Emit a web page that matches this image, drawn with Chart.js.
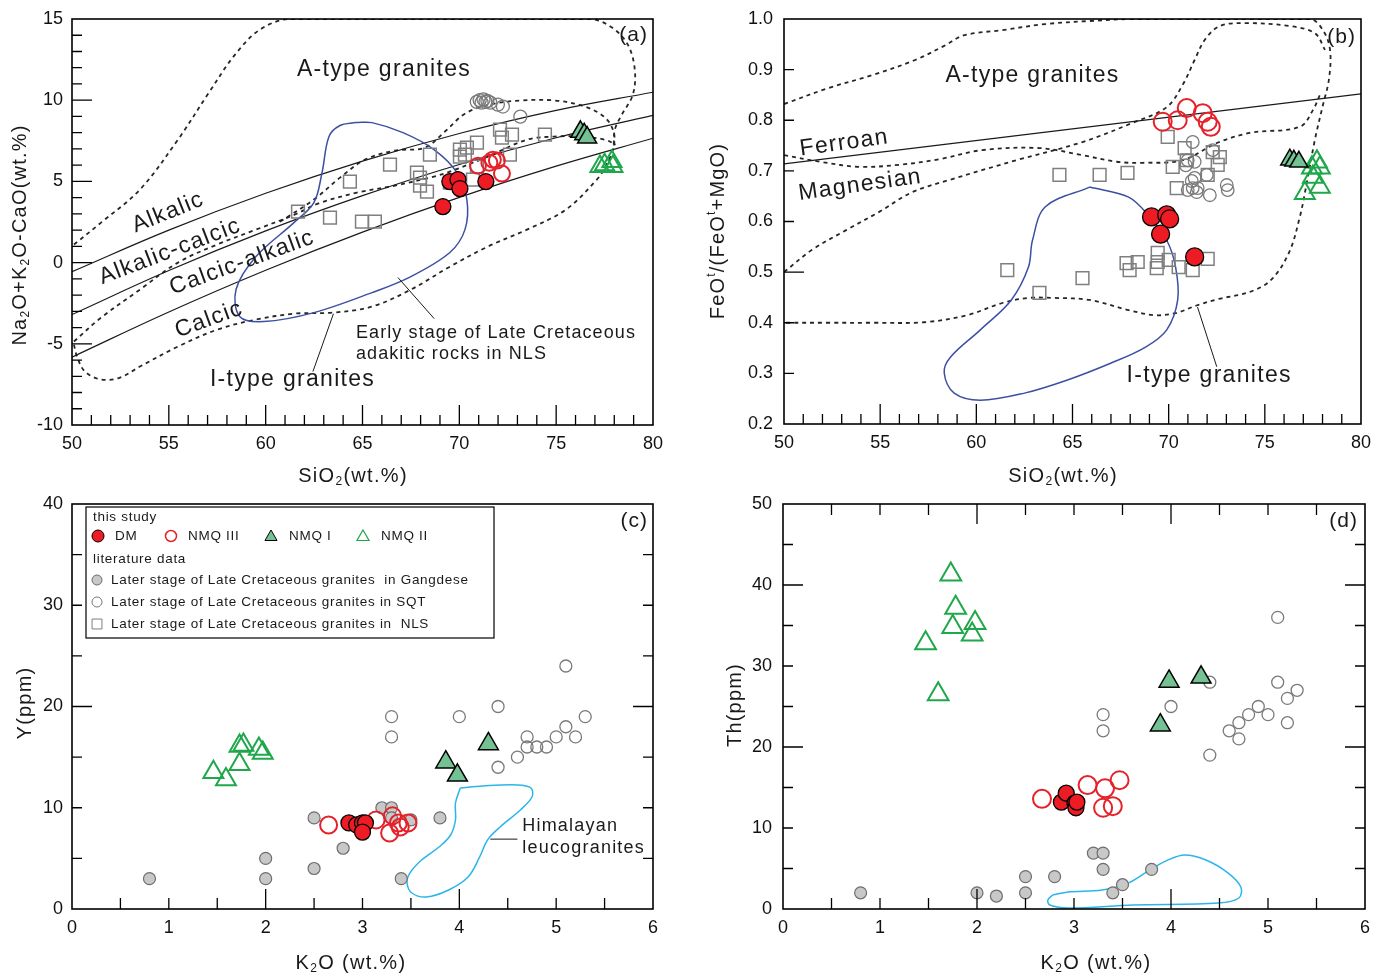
<!DOCTYPE html>
<html lang="en">
<head>
<meta charset="utf-8">
<title>Granite geochemistry diagrams</title>
<script src="https://cdn.jsdelivr.net/npm/chart.js@4.4.1/dist/chart.umd.min.js"></script>
<style>
  html, body { margin: 0; padding: 0; background: #fff; }
  #sheet { position: relative; width: 1375px; height: 974px; overflow: hidden; background: #fff; }
  #sheet canvas { position: absolute; }
</style>
</head>
<body>
<div id="sheet">
  <canvas id="chartA" width="690" height="490" style="left:0;top:0"></canvas>
  <canvas id="chartB" width="675" height="490" style="left:700px;top:0"></canvas>
  <canvas id="chartC" width="690" height="484" style="left:0;top:490px"></canvas>
  <canvas id="chartD" width="679" height="484" style="left:700px;top:490px"></canvas>
</div>
<script>
const FONT = '"Liberation Sans", Arial, Helvetica, sans-serif';
const INK = '#1a1a1a';

// ---------- (a) SiO2 vs Na2O+K2O-CaO ----------
const aDM   = [[69.15,3.45],[69.51,4.99],[69.93,5.11],[70.03,4.56],[71.37,4.99]];
const aNMQ3 = [[70.96,5.97],[71.55,6.15],[71.73,6.34],[71.94,6.28],[72.20,5.48]];
const aNMQ1 = [[76.25,8.05],[76.45,7.9],[76.6,7.7]];
const aNMQ2 = [[77.26,5.91],[77.5,6.03],[77.88,6.22],[77.93,5.91]];
const aSQT  = [[70.9,9.9],[71.05,10.0],[71.15,9.85],[71.25,10.05],[71.35,9.9],[71.45,9.95],[71.6,9.85],[71.99,9.73],[72.25,9.61],[73.15,8.99]];
const aNLS  = [[61.67,3.14],[63.32,2.77],[64.35,4.99],[64.97,2.52],[65.64,2.52],[66.42,6.03],[67.81,5.54],[67.97,5.23],[67.97,4.74],[68.33,4.37],[68.48,6.65],[70.03,6.53],[70.03,6.96],[70.29,6.65],[70.39,7.08],[70.91,7.39],[70.91,5.91],[72.10,8.19],[72.20,7.70],[72.72,7.88],[72.61,6.65],[74.42,7.88],[69.51,4.93],[70.70,5.11]];
// MALI boundaries
const aAlkalic      = [[50,-0.56],[55,2.0],[60,4.27],[65,6.25],[70,7.95],[75,9.37],[80,10.49]];
const aAlkaliCalcic = [[50,-3.2],[55,-0.49],[60,1.95],[65,4.12],[70,6.04],[75,7.69],[80,9.07]];
const aCalcAlkalic  = [[50,-5.82],[55,-3.04],[60,-0.47],[65,1.88],[70,4.02],[75,5.94],[80,7.66]];
// fields
const aAdakitic = [[64.66,8.62],[65.49,8.62],[67.09,8.0],[68.69,6.96],[69.88,5.54],[70.39,3.88],[70.29,2.03],[69.51,0.62],[67.50,-0.86],[65.49,-1.85],[62.49,-3.08],[59.91,-3.63],[58.67,-3.33],[58.47,-1.66],[59.50,0.37],[61.46,2.46],[62.49,3.69],[62.91,5.54],[63.27,7.76],[63.84,8.44],[64.66,8.62]];
const aAtypeField = [[50.10,1.11],[51.50,2.46],[53.51,4.50],[55.47,7.57],[57.07,10.47],[58.42,12.81],[59.71,14.35],[61.25,15.0],[76.74,15.0],[77.88,14.47],[78.70,13.42],[79.06,11.88],[78.96,10.34],[78.39,9.11],[78.03,8.19],[77.93,6.96],[77.52,5.85],[77.10,5.11],[75.50,3.26],[73.49,2.03],[71.48,0.99],[69.51,-0.25],[67.50,-1.66],[65.49,-2.71],[63.47,-3.08],[61.51,-3.14],[59.50,-3.51],[57.49,-4.13],[55.47,-5.17],[53.51,-6.40],[52.48,-7.08],[51.50,-7.20],[50.67,-6.71],[50.26,-5.79],[50.10,-5.05]];
const aItypeTop = [[50.10,-4.86],[51.50,-3.39],[53.51,-1.66],[55.47,0.0],[57.49,1.11],[59.50,2.03],[61.51,2.96],[62.70,3.63],[64.71,4.31],[66.68,4.74],[68.69,5.30],[69.51,5.60],[71.48,6.53],[73.49,7.57],[74.88,7.76],[76.28,7.76],[77.52,7.57],[78.08,7.27]];
const aInnerField = [[60.74,2.52],[62.49,3.88],[63.84,5.23],[65.13,6.34],[66.68,6.90],[68.22,7.08],[69.26,8.07],[70.29,9.17],[71.58,9.73],[73.13,9.98],[74.94,9.98],[76.48,9.61],[77.52,8.93],[77.98,8.0],[77.98,6.96]];
const aLeaderAdakitic = [[66.83,-0.92],[68.7,-3.45]];
const aLeaderItype    = [[62.44,-6.71],[63.5,-3.15]];

// ---------- (b) SiO2 vs FeOt/(FeOt+MgO) ----------
const bDM   = [[69.11,0.609],[69.90,0.613],[70.05,0.605],[69.58,0.575],[71.35,0.530]];
const bNMQ3 = [[69.69,0.797],[70.47,0.800],[70.94,0.824],[71.77,0.814],[72.03,0.797],[72.19,0.787]];
const bNMQ1 = [[76.30,0.722],[76.51,0.720],[76.77,0.718]];
const bNMQ2 = [[77.71,0.718],[77.45,0.706],[77.86,0.706],[77.50,0.688],[77.08,0.656],[77.86,0.668]];
const bSQT  = [[71.25,0.757],[70.99,0.721],[71.35,0.718],[71.98,0.692],[72.29,0.741],[71.35,0.686],[71.20,0.680],[71.25,0.666],[71.51,0.666],[70.99,0.662],[72.14,0.652],[73.02,0.672],[73.07,0.662],[71.46,0.658],[70.89,0.711]];
const bNLS  = [[61.61,0.504],[63.28,0.459],[65.52,0.488],[64.32,0.692],[66.41,0.692],[67.86,0.696],[67.81,0.518],[67.97,0.504],[68.39,0.520],[69.43,0.538],[69.43,0.520],[69.38,0.508],[70.0,0.524],[70.52,0.510],[71.25,0.504],[72.03,0.526],[69.95,0.767],[70.83,0.745],[70.94,0.721],[70.21,0.708],[70.42,0.666],[72.03,0.692],[72.29,0.737],[72.66,0.727],[72.55,0.712]];
const bFerroanLine = [[50,0.714],[80,0.852]];
const bAtypeField = [[50.0,0.832],[52.34,0.864],[54.58,0.889],[56.82,0.919],[58.33,0.947],[59.38,0.968],[61.35,0.978],[63.59,0.990],[65.89,0.996],[68.13,1.0],[77.34,1.0],[78.02,0.978],[78.39,0.939],[78.33,0.880],[78.02,0.830],[77.60,0.761],[77.14,0.668],[76.82,0.609],[76.25,0.538],[75.31,0.484],[74.22,0.461],[72.60,0.447],[71.51,0.435],[70.36,0.419],[69.27,0.415],[67.92,0.425],[65.89,0.445],[64.06,0.449],[62.71,0.449],[61.35,0.439],[59.53,0.415],[57.29,0.401],[54.58,0.400],[52.34,0.400],[50.1,0.400]];
const bItypeUpper = [[50.0,0.500],[51.46,0.544],[53.23,0.583],[54.95,0.619],[56.67,0.658],[58.59,0.682],[62.08,0.721],[65.52,0.757],[68.13,0.795],[69.90,0.826],[70.73,0.870],[71.35,0.919],[71.88,0.959],[72.66,0.986],[73.96,0.992],[76.30,0.986],[77.60,0.972],[78.13,0.939]];
const bFeMgField = [[50.0,0.731],[51.88,0.718],[53.91,0.708],[55.99,0.712],[58.07,0.723],[60.31,0.741],[63.28,0.745],[65.52,0.731],[67.29,0.718],[68.65,0.716],[70.73,0.721],[72.50,0.755],[74.22,0.775],[76.82,0.787],[77.50,0.820],[77.86,0.850]];
const bAdakitic = [[65.89,0.668],[63.59,0.629],[62.92,0.563],[62.71,0.510],[61.82,0.445],[60.21,0.386],[58.65,0.332],[58.33,0.301],[58.85,0.261],[60.21,0.247],[62.50,0.261],[64.74,0.287],[66.98,0.320],[68.80,0.352],[69.90,0.386],[70.47,0.445],[70.36,0.510],[69.90,0.563],[69.01,0.609],[67.92,0.648],[65.89,0.668]];
const bLeaderItype = [[72.5,0.313],[71.5,0.431]];

// ---------- (c) K2O vs Y ----------
const cDM   = [[2.86,8.5],[2.94,8.3],[3.0,8.5],[3.03,8.5],[3.0,7.6]];
const cNMQ3 = [[2.65,8.3],[3.14,8.8],[3.31,9.2],[3.37,8.5],[3.47,8.5],[3.28,7.5],[3.39,8.1]];
const cNMQ1 = [[3.86,14.5],[3.98,13.2],[4.30,16.3]];
const cNMQ2 = [[1.46,13.5],[1.59,12.8],[1.73,14.3],[1.73,16.1],[1.77,16.2],[1.93,15.8],[1.97,15.4]];
const cGangdese = [[0.8,3.0],[2.0,5.0],[2.0,3.0],[2.5,9.0],[2.5,4.0],[2.8,6.0],[3.2,10.0],[3.3,10.0],[3.3,9.0],[3.5,8.8],[3.4,3.0],[3.8,9.0]];
const cSQT  = [[3.3,19],[3.3,17],[4.0,19],[4.4,20],[4.4,14],[4.6,15],[4.7,17],[4.7,16],[4.8,16],[4.9,16],[5.0,17],[5.1,18],[5.2,17],[5.3,19],[5.1,24]];
const cHimalayan = [[4.01,11.95],[4.24,12.15],[4.60,12.25],[4.74,11.95],[4.75,11.06],[4.63,9.78],[4.42,8.1],[4.29,6.81],[4.21,5.14],[4.09,3.16],[3.89,1.88],[3.66,1.19],[3.51,1.58],[3.46,2.57],[3.49,3.56],[3.61,4.84],[3.79,6.12],[3.91,7.31],[3.96,8.79],[3.96,10.47],[4.01,11.95]];
const cLeader = [[4.32,6.9],[4.60,6.9]];

// ---------- (d) K2O vs Th ----------
const dDM   = [[2.87,13.2],[2.92,14.3],[3.01,13.1],[3.02,12.5],[3.03,13.2]];
const dNMQ3 = [[2.67,13.6],[3.14,15.3],[3.32,14.9],[3.47,15.9],[3.30,12.5],[3.40,12.7]];
const dNMQ1 = [[3.98,28.1],[4.31,28.6],[3.89,22.7]];
const dNMQ2 = [[1.73,41.3],[1.78,37.2],[1.75,34.8],[1.47,32.8],[1.95,33.9],[1.98,35.3],[1.60,26.5]];
const dGangdese = [[0.8,2.0],[2.0,2.0],[2.2,1.6],[2.5,4.0],[2.5,2.0],[2.8,4.0],[3.2,6.9],[3.3,6.9],[3.3,4.9],[3.4,2.0],[3.5,3.0],[3.8,4.9]];
const dSQT  = [[4.4,28],[4.0,25],[3.3,24],[3.3,22],[4.4,19],[4.6,22],[4.7,23],[4.7,21],[4.8,24],[4.9,25],[5.0,24],[5.1,36],[5.1,28],[5.2,26],[5.2,23],[5.3,27]];
const dHimalayan = [[2.78,1.73],[2.94,2.1],[3.29,2.35],[3.56,3.2],[3.78,4.8],[3.96,6.0],[4.14,6.67],[4.36,6.05],[4.59,4.44],[4.72,2.72],[4.70,1.36],[4.49,0.74],[3.61,0.5],[2.94,0.12],[2.75,0.5],[2.73,1.1],[2.78,1.73]];

// series names
const NAMES = {
  DM: 'DM', NMQ3: 'NMQ III', NMQ1: 'NMQ I', NMQ2: 'NMQ II',
  GANG: 'Later stage of Late Cretaceous granites  in Gangdese',
  SQT: 'Later stage of Late Cretaceous granites in SQT',
  NLS: 'Later stage of Late Cretaceous granites in  NLS'
};

// ---------- styling ----------
const CLEAR = 'rgba(0,0,0,0)';
const STY = {
  DM:   { shape: 'circle',   bg: '#ED1C24', bc: '#000000', lw: 1.3 },
  NMQ3: { shape: 'circle',   bg: CLEAR,     bc: '#E5222A', lw: 2 },
  NMQ1: { shape: 'triangle', bg: '#74C293', bc: '#000000', lw: 1.5 },
  NMQ2: { shape: 'triangle', bg: CLEAR,     bc: '#1FA74B', lw: 2 },
  GANG: { shape: 'circle',   bg: '#C8C8C8', bc: '#6E6E6E', lw: 1.2 },
  SQT:  { shape: 'circle',   bg: CLEAR,     bc: '#7A7A7A', lw: 1.3 },
  NLS:  { shape: 'rect',     bg: CLEAR,     bc: '#7F7F7F', lw: 1.5 }
};
const DASHED = { color: '#262626', width: 1.8, dash: [4, 4] };
const ADAKITE_BLUE = { color: '#3D4FA3', width: 1.5 };
const HIMALAYA_CYAN = { color: '#2BB5EA', width: 1.5 };
const THIN = { color: '#1a1a1a', width: 1, tension: 0 };

const xy = arr => arr.map(([x, y]) => ({ x, y }));
function pts(key, arr, r) {
  const s = STY[key];
  return { label: NAMES[key], data: xy(arr), showLine: false, pointStyle: s.shape, pointRadius: r,
    pointBackgroundColor: s.bg, pointBorderColor: s.bc, pointBorderWidth: s.lw };
}
function curve(label, arr, o) {
  return { label, data: xy(arr), showLine: true, pointRadius: 0, fill: false,
    borderColor: o.color, borderWidth: o.width, borderDash: o.dash || [],
    tension: o.tension === undefined ? 0.35 : o.tension };
}

function range(from, to, step) {
  const out = [];
  for (let v = from; v <= to + step / 1000; v += step) out.push(Math.round(v * 1000) / 1000);
  return out;
}

// text with sub/superscripts
function drawRich(ctx, parts, x, y, size, rot, align, spacing) {
  ctx.save();
  ctx.translate(x, y);
  ctx.rotate(rot || 0);
  ctx.letterSpacing = (spacing || 0) + 'px';
  ctx.textBaseline = 'middle';
  ctx.textAlign = 'left';
  const small = Math.round(size * 0.6);
  const widths = parts.map(([t, m]) => { ctx.font = (m ? small : size) + 'px ' + FONT; return ctx.measureText(t).width; });
  const total = widths.reduce((a, b) => a + b, 0);
  let cx = align === 'left' ? 0 : align === 'right' ? -total : -total / 2;
  parts.forEach(([t, m], i) => {
    ctx.font = (m ? small : size) + 'px ' + FONT;
    const dy = m === 'sub' ? size * 0.3 : m === 'sup' ? -size * 0.33 : 0;
    ctx.fillText(t, cx, dy);
    cx += widths[i];
  });
  ctx.restore();
}

function drawMarker(ctx, key, x, y, r, lw) {
  const s = STY[key];
  ctx.save();
  ctx.beginPath();
  if (s.shape === 'circle') ctx.arc(x, y, r, 0, Math.PI * 2);
  else if (s.shape === 'triangle') {
    ctx.moveTo(x, y - r); ctx.lineTo(x + r * 0.866, y + r / 2); ctx.lineTo(x - r * 0.866, y + r / 2); ctx.closePath();
  } else { const h = r * Math.SQRT1_2; ctx.rect(x - h, y - h, 2 * h, 2 * h); }
  ctx.fillStyle = s.bg; ctx.fill();
  ctx.lineWidth = lw || s.lw; ctx.strokeStyle = s.bc; ctx.stroke();
  ctx.restore();
}

// frame + inward tick marks
function frameTicks(spec) {
  return {
    id: 'frameTicks',
    afterDraw(chart) {
      const { ctx, chartArea: a, scales: { x, y } } = chart;
      ctx.save();
      ctx.strokeStyle = '#000';
      ctx.lineWidth = 1.3;
      ctx.beginPath();
      for (const t of spec) {
        for (const v of range(t.from, t.to, t.step)) {
          const long = t.longAt ? t.longAt.some(l => Math.abs(l - v) < 1e-6)
                     : t.longEvery ? Math.abs(v / t.longEvery - Math.round(v / t.longEvery)) < 1e-6 : false;
          const len = long ? t.longLen : t.len;
          if (t.side === 'bottom') { const p = x.getPixelForValue(v); ctx.moveTo(p, a.bottom); ctx.lineTo(p, a.bottom - len); }
          if (t.side === 'top')    { const p = x.getPixelForValue(v); ctx.moveTo(p, a.top);    ctx.lineTo(p, a.top + len); }
          if (t.side === 'left')   { const p = y.getPixelForValue(v); ctx.moveTo(a.left, p);   ctx.lineTo(a.left + len, p); }
          if (t.side === 'right')  { const p = y.getPixelForValue(v); ctx.moveTo(a.right, p);  ctx.lineTo(a.right - len, p); }
        }
      }
      ctx.stroke();
      ctx.lineWidth = 1.6;
      ctx.strokeRect(a.left, a.top, a.right - a.left, a.bottom - a.top);
      ctx.restore();
    }
  };
}

function annotations(cfg) {
  return {
    id: 'annotations',
    afterDraw(chart) {
      const { ctx, chartArea: a, scales: { x, y } } = chart;
      ctx.save();
      ctx.fillStyle = INK;
      for (const t of cfg.labels || []) {
        drawRich(ctx, [[t.text, '']], x.getPixelForValue(t.x), y.getPixelForValue(t.y), t.size,
          (t.rot || 0) * Math.PI / 180, t.align || 'center', t.spacing === undefined ? 1.2 : t.spacing);
      }
      drawRich(ctx, [[cfg.tag, '']], a.right - cfg.tagDx, a.top + cfg.tagDy, 21, 0, 'right', 1);
      drawRich(ctx, cfg.xTitle, cfg.xTitlePos[0], cfg.xTitlePos[1], 20, 0, 'center', 1.3);
      drawRich(ctx, cfg.yTitle, cfg.yTitlePos[0], cfg.yTitlePos[1], 20, -Math.PI / 2, 'center', 1.2);
      ctx.restore();
    }
  };
}

function legendBox() {
  return {
    id: 'legendBox',
    afterDraw(chart) {
      const { ctx, chartArea: a } = chart;
      const L = a.left + 14, T = a.top + 3, W = 408, H = 131;
      ctx.save();
      ctx.fillStyle = '#fff';
      ctx.fillRect(L, T, W, H);
      ctx.strokeStyle = '#000'; ctx.lineWidth = 1.2;
      ctx.strokeRect(L, T, W, H);
      ctx.fillStyle = INK;
      const fs = 13.5, sp = 0.7;
      drawRich(ctx, [['this study', '']], L + 7, T + 10, fs, 0, 'left', sp);
      const rowY = T + 29;
      drawMarker(ctx, 'DM', L + 12, rowY, 6, 1);
      drawRich(ctx, [[NAMES.DM, '']], L + 29, rowY, fs, 0, 'left', sp);
      drawMarker(ctx, 'NMQ3', L + 85, rowY, 5.5, 1.5);
      drawRich(ctx, [[NAMES.NMQ3, '']], L + 102, rowY, fs, 0, 'left', sp);
      drawMarker(ctx, 'NMQ1', L + 185, rowY + 1, 7, 1);
      drawRich(ctx, [[NAMES.NMQ1, '']], L + 203, rowY, fs, 0, 'left', sp);
      drawMarker(ctx, 'NMQ2', L + 277, rowY + 1, 7, 1.2);
      drawRich(ctx, [[NAMES.NMQ2, '']], L + 295, rowY, fs, 0, 'left', sp);
      drawRich(ctx, [['literature data', '']], L + 7, T + 52, fs, 0, 'left', sp);
      const rows = [['GANG', 73, 5], ['SQT', 95, 5], ['NLS', 117, 7]];
      for (const [k, dy, r] of rows) {
        drawMarker(ctx, k, L + 11, T + dy, r, 1);
        drawRich(ctx, [[NAMES[k], '']], L + 25, T + dy, fs, 0, 'left', sp);
      }
      ctx.restore();
    }
  };
}

function makeChart(id, cfg) {
  const tickFont = { family: FONT, size: 18 };
  return new Chart(document.getElementById(id), {
    type: 'scatter',
    data: { datasets: cfg.datasets },
    options: {
      responsive: false, animation: false, events: [],
      layout: { padding: { top: cfg.padTop, right: cfg.padRight, left: 0, bottom: 0 } },
      plugins: { legend: { display: false }, tooltip: { enabled: false } },
      elements: { line: { capBezierPoints: true } },
      scales: {
        x: {
          type: 'linear', position: 'bottom', min: cfg.x.min, max: cfg.x.max,
          grid: { display: false, drawTicks: false }, border: { display: false },
          ticks: { stepSize: cfg.x.step, autoSkip: false, maxRotation: 0, padding: 8, color: '#111', font: tickFont,
                   callback: v => String(v) },
          afterFit: s => { s.height = cfg.xH; s.paddingLeft = 0; s.paddingRight = 0; }
        },
        y: {
          type: 'linear', position: 'left', min: cfg.y.min, max: cfg.y.max,
          grid: { display: false, drawTicks: false }, border: { display: false },
          ticks: { stepSize: cfg.y.step, autoSkip: false, padding: cfg.yPad, color: '#111', font: tickFont,
                   callback: cfg.y.fmt || (v => String(v)) },
          afterFit: s => { s.width = cfg.yW; s.paddingTop = 0; s.paddingBottom = 0; }
        }
      }
    },
    plugins: [frameTicks(cfg.ticks), annotations(cfg)].concat(cfg.extra || [])
  });
}

const SIO2 = [['SiO', ''], ['2', 'sub'], ['(wt.%)', '']];
const K2O = [['K', ''], ['2', 'sub'], ['O (wt.%)', '']];

// (a)
makeChart('chartA', {
  padTop: 19, padRight: 37, xH: 65, yW: 72, yPad: 9,
  x: { min: 50, max: 80, step: 5 }, y: { min: -10, max: 15, step: 5 },
  datasets: [
    pts('DM', aDM, 8), pts('NMQ3', aNMQ3, 8), pts('NMQ1', aNMQ1, 11), pts('NMQ2', aNMQ2, 11),
    pts('SQT', aSQT, 6.5), pts('NLS', aNLS, 9),
    curve('leader-adakitic', aLeaderAdakitic, THIN), curve('leader-itype', aLeaderItype, THIN),
    curve('Early stage of Late Cretaceous adakitic rocks in NLS', aAdakitic, ADAKITE_BLUE),
    curve('Alkalic / Alkalic-calcic', aAlkalic, { color: '#1a1a1a', width: 1.2, tension: 0.4 }),
    curve('Alkalic-calcic / Calcic-alkalic', aAlkaliCalcic, { color: '#1a1a1a', width: 1.2, tension: 0.4 }),
    curve('Calcic-alkalic / Calcic', aCalcAlkalic, { color: '#1a1a1a', width: 1.2, tension: 0.4 }),
    curve('A-type granites', aAtypeField, DASHED),
    curve('I-type granites', aItypeTop, DASHED),
    curve('inner field', aInnerField, DASHED)
  ],
  ticks: [
    { side: 'left', from: -9, to: 14, step: 1, len: 10, longEvery: 5, longLen: 20 },
    { side: 'bottom', from: 51, to: 79, step: 1, len: 10, longEvery: 5, longLen: 20 }
  ],
  labels: [
    { text: 'A-type granites', x: 66.11, y: 11.88, size: 23, spacing: 1.3 },
    { text: 'Alkalic', x: 54.96, y: 3.08, size: 23, rot: -22, spacing: 1.3 },
    { text: 'Alkalic-calcic', x: 55.06, y: 0.68, size: 23, rot: -21, spacing: 1.3 },
    { text: 'Calcic-alkalic', x: 58.78, y: 0.0, size: 23, rot: -20, spacing: 1.3 },
    { text: 'Calcic', x: 57.07, y: -3.51, size: 23, rot: -20, spacing: 1.3 },
    { text: 'Early stage of Late Cretaceous', x: 64.66, y: -4.31, size: 18, align: 'left', spacing: 1.1 },
    { text: 'adakitic rocks in NLS', x: 64.66, y: -5.60, size: 18, align: 'left', spacing: 1.1 },
    { text: 'I-type granites', x: 57.12, y: -7.2, size: 23, align: 'left', spacing: 1.3 }
  ],
  tag: '(a)', tagDx: 5, tagDy: 16,
  xTitle: SIO2, xTitlePos: [353, 476],
  yTitle: [['Na', ''], ['2', 'sub'], ['O+K', ''], ['2', 'sub'], ['O-CaO(wt.%)', '']], yTitlePos: [20, 235]
});

// (b)
makeChart('chartB', {
  padTop: 19, padRight: 14, xH: 66, yW: 84, yPad: 11,
  x: { min: 50, max: 80, step: 5 }, y: { min: 0.2, max: 1.0, step: 0.1, fmt: v => v.toFixed(1) },
  datasets: [
    pts('DM', bDM, 9), pts('NMQ3', bNMQ3, 9), pts('NMQ1', bNMQ1, 10.5), pts('NMQ2', bNMQ2, 11.5),
    pts('SQT', bSQT, 6.3), pts('NLS', bNLS, 9),
    curve('leader-itype', bLeaderItype, THIN),
    curve('Early stage of Late Cretaceous adakitic rocks in NLS', bAdakitic, ADAKITE_BLUE),
    curve('Ferroan / Magnesian', bFerroanLine, { color: '#1a1a1a', width: 1.2, tension: 0 }),
    curve('A-type granites', bAtypeField, DASHED),
    curve('I-type granites', bItypeUpper, DASHED),
    curve('field', bFeMgField, DASHED)
  ],
  ticks: [
    { side: 'left', from: 0.3, to: 0.9, step: 0.1, len: 10, longAt: [0.5], longLen: 20 },
    { side: 'bottom', from: 51, to: 79, step: 1, len: 10, longEvery: 5, longLen: 20 }
  ],
  labels: [
    { text: 'A-type granites', x: 62.92, y: 0.889, size: 23, spacing: 1.3 },
    { text: 'Ferroan', x: 53.13, y: 0.755, size: 23, rot: -8, spacing: 1.3 },
    { text: 'Magnesian', x: 53.96, y: 0.672, size: 23, rot: -8, spacing: 1.3 },
    { text: 'I-type granites', x: 67.81, y: 0.295, size: 23, align: 'left', spacing: 1.3 }
  ],
  tag: '(b)', tagDx: 5, tagDy: 18,
  xTitle: SIO2, xTitlePos: [363, 476],
  yTitle: [['FeO', ''], ['t', 'sup'], ['/(FeO', ''], ['t', 'sup'], ['+MgO)', '']], yTitlePos: [18, 231]
});

// (c)
makeChart('chartC', {
  padTop: 14, padRight: 37, xH: 65, yW: 72, yPad: 9,
  x: { min: 0, max: 6, step: 1 }, y: { min: 0, max: 40, step: 10 },
  datasets: [
    pts('DM', cDM, 8), pts('NMQ3', cNMQ3, 8.5), pts('NMQ1', cNMQ1, 11.5), pts('NMQ2', cNMQ2, 11.5),
    pts('GANG', cGangdese, 6), pts('SQT', cSQT, 6),
    curve('leader', cLeader, THIN),
    curve('Himalayan leucogranites', cHimalayan, HIMALAYA_CYAN)
  ],
  ticks: [
    { side: 'left', from: 5, to: 35, step: 5, len: 10, longAt: [20], longLen: 20 },
    { side: 'right', from: 5, to: 35, step: 5, len: 10, longAt: [20], longLen: 20 },
    { side: 'bottom', from: 0.5, to: 5.5, step: 0.5, len: 11, longAt: [2, 4], longLen: 20 }
  ],
  labels: [
    { text: 'Himalayan', x: 4.65, y: 8.2, size: 18, align: 'left', spacing: 1.2 },
    { text: 'leucogranites', x: 4.65, y: 6.0, size: 18, align: 'left', spacing: 1.2 }
  ],
  tag: '(c)', tagDx: 5, tagDy: 17,
  xTitle: K2O, xTitlePos: [351, 473],
  yTitle: [['Y(ppm)', '']], yTitlePos: [25, 213],
  extra: [legendBox()]
});

// (d)
makeChart('chartD', {
  padTop: 14, padRight: 14, xH: 65, yW: 83, yPad: 11,
  x: { min: 0, max: 6, step: 1 }, y: { min: 0, max: 50, step: 10 },
  datasets: [
    pts('DM', dDM, 8), pts('NMQ3', dNMQ3, 9), pts('NMQ1', dNMQ1, 11.5), pts('NMQ2', dNMQ2, 12),
    pts('GANG', dGangdese, 6), pts('SQT', dSQT, 6),
    curve('Himalayan leucogranites', dHimalayan, HIMALAYA_CYAN)
  ],
  ticks: [
    { side: 'left', from: 5, to: 45, step: 5, len: 10, longAt: [20, 40], longLen: 20 },
    { side: 'right', from: 5, to: 45, step: 5, len: 10, longAt: [20, 40], longLen: 20 },
    { side: 'bottom', from: 0.5, to: 5.5, step: 0.5, len: 11, longAt: [2, 4], longLen: 20 },
    { side: 'top', from: 0.5, to: 5.5, step: 0.5, len: 11, longAt: [2, 4], longLen: 20 }
  ],
  labels: [],
  tag: '(d)', tagDx: 7, tagDy: 17,
  xTitle: K2O, xTitlePos: [396, 473],
  yTitle: [['Th(ppm)', '']], yTitlePos: [35, 215]
});
</script>
</body>
</html>
